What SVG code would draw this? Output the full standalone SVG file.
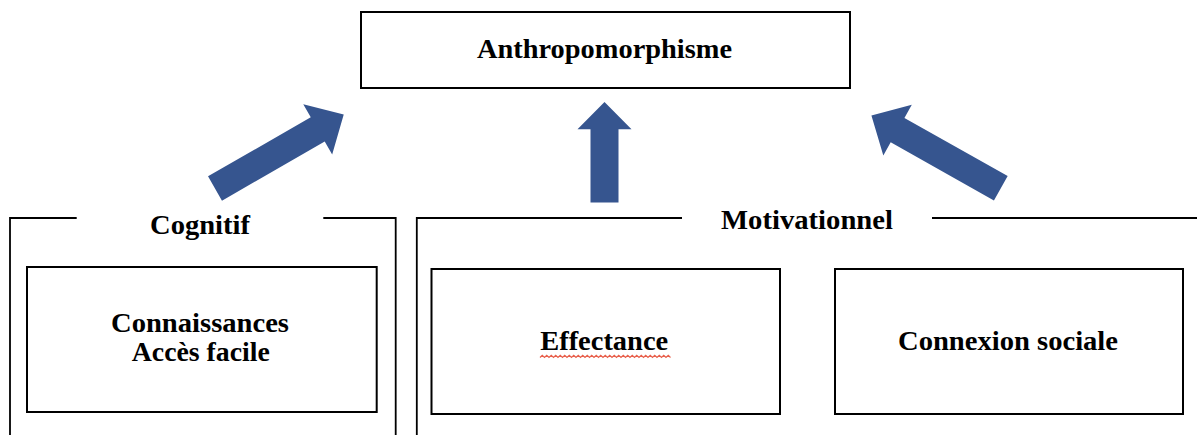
<svg xmlns="http://www.w3.org/2000/svg" width="1197" height="435" viewBox="0 0 1197 435">
<style>
.box{fill:#fff;stroke:#000;stroke-width:2}
.frame{fill:none;stroke:#000;stroke-width:1.8}
.t{font-family:"Liberation Serif","Times New Roman",serif;font-weight:bold;font-size:27.5px;fill:#000;text-anchor:middle}
.arrow{fill:#36558F}
</style>
<defs>
<polygon id="arr" points="0,-14 118.5,-14 118.5,-29 148.5,0 118.5,29 118.5,14 0,14"/>
</defs>
<rect width="1197" height="435" fill="#fff"/>
<g id="anthropomorphisme">
<rect class="box" x="361" y="12" width="489" height="76"/>
<text class="t" x="604.5" y="58" textLength="255" lengthAdjust="spacingAndGlyphs">Anthropomorphisme</text>
</g>
<g id="cognitif">
<path class="frame" d="M10,435 V218 H76.7 M323.3,218 H395.7 V435"/>
<text class="t" x="200" y="233.5" textLength="100" lengthAdjust="spacingAndGlyphs">Cognitif</text>
</g>
<g id="motivationnel">
<path class="frame" d="M416.8,435 V218 H682 M932,218 H1197"/>
<text class="t" x="807" y="228.5" textLength="172" lengthAdjust="spacingAndGlyphs">Motivationnel</text>
</g>
<g id="connaissances">
<rect class="box" x="27" y="267" width="349.7" height="145"/>
<text class="t" x="200" y="332" textLength="178" lengthAdjust="spacingAndGlyphs">Connaissances</text>
<text class="t" x="200.8" y="361" textLength="138" lengthAdjust="spacingAndGlyphs">Accès facile</text>
</g>
<g id="effectance">
<rect class="box" x="431.5" y="269" width="348.5" height="145"/>
<text class="t" x="604.2" y="350" textLength="128" lengthAdjust="spacingAndGlyphs">Effectance</text>
<path d="M540,357.5 l2.25,-2.2 l2.25,2.2 l2.25,-2.2 l2.25,2.2 l2.25,-2.2 l2.25,2.2 l2.25,-2.2 l2.25,2.2 l2.25,-2.2 l2.25,2.2 l2.25,-2.2 l2.25,2.2 l2.25,-2.2 l2.25,2.2 l2.25,-2.2 l2.25,2.2 l2.25,-2.2 l2.25,2.2 l2.25,-2.2 l2.25,2.2 l2.25,-2.2 l2.25,2.2 l2.25,-2.2 l2.25,2.2 l2.25,-2.2 l2.25,2.2 l2.25,-2.2 l2.25,2.2 l2.25,-2.2 l2.25,2.2 l2.25,-2.2 l2.25,2.2 l2.25,-2.2 l2.25,2.2 l2.25,-2.2 l2.25,2.2 l2.25,-2.2 l2.25,2.2 l2.25,-2.2 l2.25,2.2 l2.25,-2.2 l2.25,2.2 l2.25,-2.2 l2.25,2.2 l2.25,-2.2 l2.25,2.2 l2.25,-2.2 l2.25,2.2 l2.25,-2.2 l2.25,2.2 l2.25,-2.2 l2.25,2.2 l2.25,-2.2 l2.25,2.2 l2.25,-2.2 l2.25,2.2 l2.25,-2.2 l2.25,2.2" fill="none" stroke="#E8604C" stroke-width="1.2"/>
</g>
<g id="connexion-sociale">
<rect class="box" x="835" y="269" width="348" height="145"/>
<text class="t" x="1008" y="350" textLength="220" lengthAdjust="spacingAndGlyphs">Connexion sociale</text>
</g>
<g id="connectors">
<use href="#arr" class="arrow" transform="translate(215,188.5) rotate(-29.9)"/>
<polygon class="arrow" points="590.5,202.5 590.5,129.3 577.5,129.3 604.5,102 631.5,129.3 618.5,129.3 618.5,202.5"/>
<use href="#arr" class="arrow" transform="translate(1000.8,188.3) rotate(-150.6)"/>
</g>
</svg>
